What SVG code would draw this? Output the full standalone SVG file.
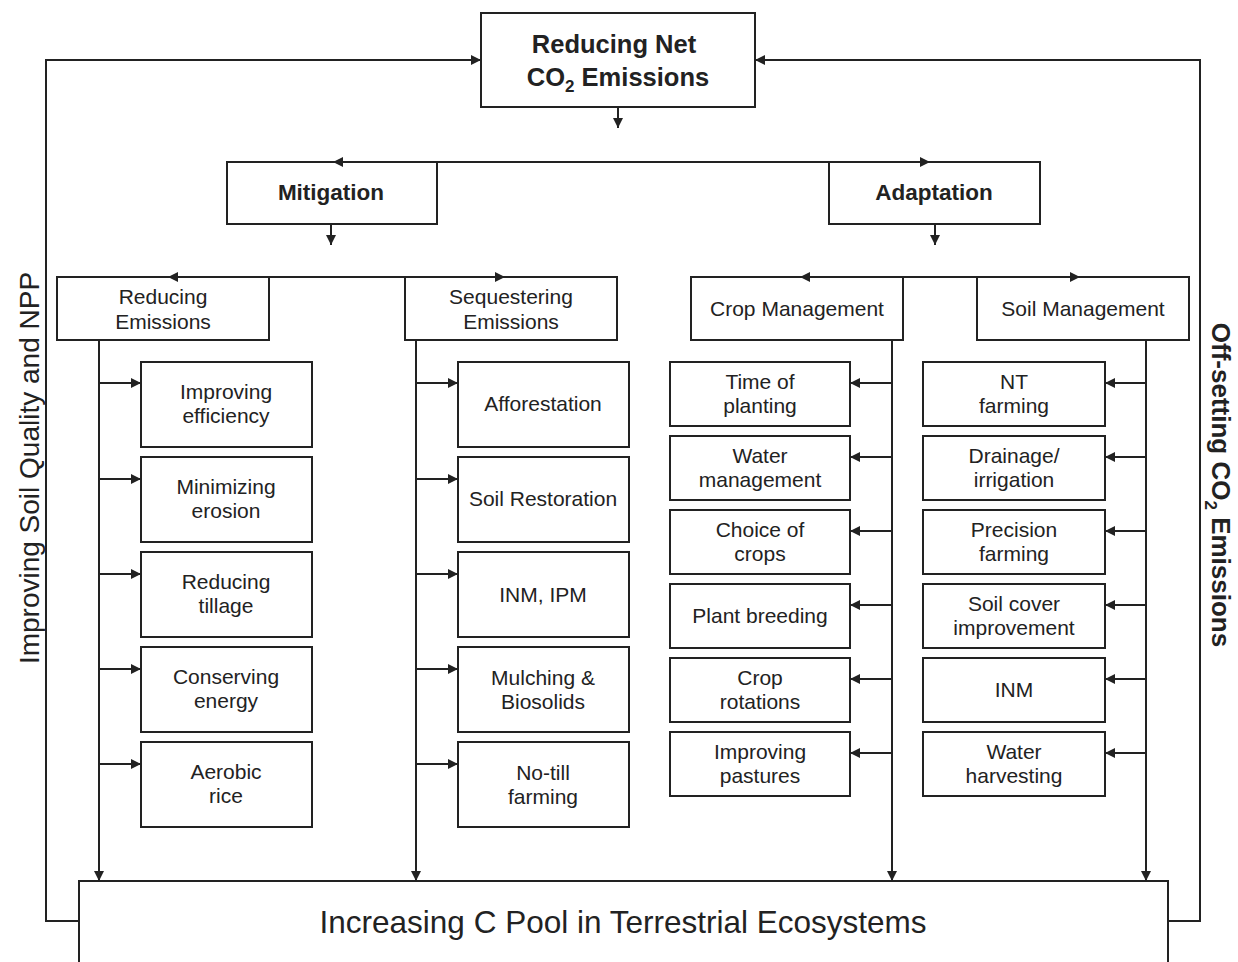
<svg xmlns="http://www.w3.org/2000/svg" xmlns:xlink="http://www.w3.org/1999/xlink" width="1238" height="962" viewBox="0 0 1238 962">
<style>
  .box { fill: #fff; stroke: #222; stroke-width: 2; }
  .ln { fill: none; stroke: #222; stroke-width: 2; }
  .t { font-family: "Liberation Sans", Arial, sans-serif; fill: #222; text-anchor: middle; }
  .big { font-size: 25.5px; font-weight: bold; }
  .mid { font-size: 22.5px; font-weight: bold; }
  .sm { font-size: 21px; }
  .side { font-size: 28px; }
  .sideb { font-size: 26px; font-weight: bold; }
  .bot { font-size: 31.5px; }
</style>
<defs>
  <path id="tri" d="M0,0 L-10,-5 L-10,5 Z" fill="#222"/>
</defs>
<rect width="1238" height="962" fill="#fff"/>

<g id="n-top">
  <rect class="box" x="481" y="13" width="274" height="94" stroke-width="2.5"/>
  <text class="t big" x="614" y="53">Reducing Net</text>
  <text class="t big" x="618" y="86">CO<tspan font-size="17" dy="6">2</tspan><tspan dy="-6"> Emissions</tspan></text>
</g>
<g id="n-mitigation">
  <rect class="box" x="227" y="162" width="210" height="62"/>
  <text class="t mid" x="331" y="200">Mitigation</text>
</g>
<g id="n-adaptation">
  <rect class="box" x="829" y="162" width="211" height="62"/>
  <text class="t mid" x="934" y="200">Adaptation</text>
</g>

<g id="n-reducing-emissions">
  <rect class="box" x="57" y="277" width="212" height="63"/>
  <text class="t sm" x="163" y="304">Reducing</text>
  <text class="t sm" x="163" y="329">Emissions</text>
</g>
<g id="n-sequestering-emissions">
  <rect class="box" x="405" y="277" width="212" height="63"/>
  <text class="t sm" x="511" y="304">Sequestering</text>
  <text class="t sm" x="511" y="329">Emissions</text>
</g>
<g id="n-crop-management">
  <rect class="box" x="691" y="277" width="212" height="63"/>
  <text class="t sm" x="797" y="316">Crop Management</text>
</g>
<g id="n-soil-management">
  <rect class="box" x="977" y="277" width="212" height="63"/>
  <text class="t sm" x="1083" y="316">Soil Management</text>
</g>

<g id="n-improving-efficiency">
  <rect class="box" x="141" y="362" width="171" height="85"/>
  <text class="t sm" x="226" y="399">Improving</text>
  <text class="t sm" x="226" y="423">efficiency</text>
</g>
<g id="n-minimizing-erosion">
  <rect class="box" x="141" y="457" width="171" height="85"/>
  <text class="t sm" x="226" y="494">Minimizing</text>
  <text class="t sm" x="226" y="518">erosion</text>
</g>
<g id="n-reducing-tillage">
  <rect class="box" x="141" y="552" width="171" height="85"/>
  <text class="t sm" x="226" y="589">Reducing</text>
  <text class="t sm" x="226" y="613">tillage</text>
</g>
<g id="n-conserving-energy">
  <rect class="box" x="141" y="647" width="171" height="85"/>
  <text class="t sm" x="226" y="684">Conserving</text>
  <text class="t sm" x="226" y="708">energy</text>
</g>
<g id="n-aerobic-rice">
  <rect class="box" x="141" y="742" width="171" height="85"/>
  <text class="t sm" x="226" y="779">Aerobic</text>
  <text class="t sm" x="226" y="803">rice</text>
</g>

<g id="n-afforestation">
  <rect class="box" x="458" y="362" width="171" height="85"/>
  <text class="t sm" x="543" y="411">Afforestation</text>
</g>
<g id="n-soil-restoration">
  <rect class="box" x="458" y="457" width="171" height="85"/>
  <text class="t sm" x="543" y="506">Soil Restoration</text>
</g>
<g id="n-inm-ipm">
  <rect class="box" x="458" y="552" width="171" height="85"/>
  <text class="t sm" x="543" y="602">INM, IPM</text>
</g>
<g id="n-mulching">
  <rect class="box" x="458" y="647" width="171" height="85"/>
  <text class="t sm" x="543" y="685">Mulching &amp;</text>
  <text class="t sm" x="543" y="709">Biosolids</text>
</g>
<g id="n-no-till">
  <rect class="box" x="458" y="742" width="171" height="85"/>
  <text class="t sm" x="543" y="780">No-till</text>
  <text class="t sm" x="543" y="804">farming</text>
</g>

<g id="n-time-of-planting">
  <rect class="box" x="670" y="362" width="180" height="64"/>
  <text class="t sm" x="760" y="389">Time of</text>
  <text class="t sm" x="760" y="413">planting</text>
</g>
<g id="n-water-management">
  <rect class="box" x="670" y="436" width="180" height="64"/>
  <text class="t sm" x="760" y="463">Water</text>
  <text class="t sm" x="760" y="487">management</text>
</g>
<g id="n-choice-of-crops">
  <rect class="box" x="670" y="510" width="180" height="64"/>
  <text class="t sm" x="760" y="537">Choice of</text>
  <text class="t sm" x="760" y="561">crops</text>
</g>
<g id="n-plant-breeding">
  <rect class="box" x="670" y="584" width="180" height="64"/>
  <text class="t sm" x="760" y="623">Plant breeding</text>
</g>
<g id="n-crop-rotations">
  <rect class="box" x="670" y="658" width="180" height="64"/>
  <text class="t sm" x="760" y="685">Crop</text>
  <text class="t sm" x="760" y="709">rotations</text>
</g>
<g id="n-improving-pastures">
  <rect class="box" x="670" y="732" width="180" height="64"/>
  <text class="t sm" x="760" y="759">Improving</text>
  <text class="t sm" x="760" y="783">pastures</text>
</g>

<g id="n-nt-farming">
  <rect class="box" x="923" y="362" width="182" height="64"/>
  <text class="t sm" x="1014" y="389">NT</text>
  <text class="t sm" x="1014" y="413">farming</text>
</g>
<g id="n-drainage">
  <rect class="box" x="923" y="436" width="182" height="64"/>
  <text class="t sm" x="1014" y="463">Drainage/</text>
  <text class="t sm" x="1014" y="487">irrigation</text>
</g>
<g id="n-precision-farming">
  <rect class="box" x="923" y="510" width="182" height="64"/>
  <text class="t sm" x="1014" y="537">Precision</text>
  <text class="t sm" x="1014" y="561">farming</text>
</g>
<g id="n-soil-cover">
  <rect class="box" x="923" y="584" width="182" height="64"/>
  <text class="t sm" x="1014" y="611">Soil cover</text>
  <text class="t sm" x="1014" y="635">improvement</text>
</g>
<g id="n-inm">
  <rect class="box" x="923" y="658" width="182" height="64"/>
  <text class="t sm" x="1014" y="697">INM</text>
</g>
<g id="n-water-harvesting">
  <rect class="box" x="923" y="732" width="182" height="64"/>
  <text class="t sm" x="1014" y="759">Water</text>
  <text class="t sm" x="1014" y="783">harvesting</text>
</g>

<g id="n-c-pool">
  <path class="box" d="M79,975 V881 H1168 V975"/>
  <text class="t bot" x="623" y="933">Increasing C Pool in Terrestrial Ecosystems</text>
</g>

<g id="side-labels">
  <text class="t side" transform="translate(39,468) rotate(-90)">Improving Soil Quality and NPP</text>
  <text class="t sideb" transform="translate(1212,485) rotate(90)">Off-setting CO<tspan font-size="17" dy="7">2</tspan><tspan dy="-7"> Emissions</tspan></text>
</g>

<g id="connectors">
  <path class="ln" d="M79,921 H46 V60 H481"/>
  <path class="ln" d="M1168,921 H1200 V60 H755"/>
  <path class="ln" d="M618,107 V128"/>
  <path class="ln" d="M227,162 H1040" stroke-width="2.5"/>
  <path class="ln" d="M331,224 V245"/>
  <path class="ln" d="M935,224 V245"/>
  <path class="ln" d="M57,277 H617"/>
  <path class="ln" d="M691,277 H1189"/>
  <path class="ln" d="M99,341 V881 M99,383 H141 M99,479 H141 M99,574 H141 M99,669 H141 M99,764 H141"/>
  <path class="ln" d="M416,341 V881 M416,383 H458 M416,479 H458 M416,574 H458 M416,669 H458 M416,764 H458"/>
  <path class="ln" d="M892,341 V881 M892,383 H850 M892,457 H850 M892,531 H850 M892,605 H850 M892,679 H850 M892,753 H850"/>
  <path class="ln" d="M1146,341 V881 M1146,383 H1105 M1146,457 H1105 M1146,531 H1105 M1146,605 H1105 M1146,679 H1105 M1146,753 H1105"/>
  <use xlink:href="#tri" transform="translate(481,60)"/>
  <use xlink:href="#tri" transform="translate(755,60) rotate(180)"/>
  <use xlink:href="#tri" transform="translate(618,128) rotate(90)"/>
  <use xlink:href="#tri" transform="translate(333,162) rotate(180)"/>
  <use xlink:href="#tri" transform="translate(930,162)"/>
  <use xlink:href="#tri" transform="translate(331,245) rotate(90)"/>
  <use xlink:href="#tri" transform="translate(935,245) rotate(90)"/>
  <use xlink:href="#tri" transform="translate(168,277) rotate(180)"/>
  <use xlink:href="#tri" transform="translate(505,277)"/>
  <use xlink:href="#tri" transform="translate(800,277) rotate(180)"/>
  <use xlink:href="#tri" transform="translate(1080,277)"/>
  <use xlink:href="#tri" transform="translate(99,881) rotate(90)"/>
  <use xlink:href="#tri" transform="translate(416,881) rotate(90)"/>
  <use xlink:href="#tri" transform="translate(892,881) rotate(90)"/>
  <use xlink:href="#tri" transform="translate(1146,881) rotate(90)"/>
  <use xlink:href="#tri" transform="translate(141,383)"/>
  <use xlink:href="#tri" transform="translate(141,479)"/>
  <use xlink:href="#tri" transform="translate(141,574)"/>
  <use xlink:href="#tri" transform="translate(141,669)"/>
  <use xlink:href="#tri" transform="translate(141,764)"/>
  <use xlink:href="#tri" transform="translate(458,383)"/>
  <use xlink:href="#tri" transform="translate(458,479)"/>
  <use xlink:href="#tri" transform="translate(458,574)"/>
  <use xlink:href="#tri" transform="translate(458,669)"/>
  <use xlink:href="#tri" transform="translate(458,764)"/>
  <use xlink:href="#tri" transform="translate(850,383) rotate(180)"/>
  <use xlink:href="#tri" transform="translate(850,457) rotate(180)"/>
  <use xlink:href="#tri" transform="translate(850,531) rotate(180)"/>
  <use xlink:href="#tri" transform="translate(850,605) rotate(180)"/>
  <use xlink:href="#tri" transform="translate(850,679) rotate(180)"/>
  <use xlink:href="#tri" transform="translate(850,753) rotate(180)"/>
  <use xlink:href="#tri" transform="translate(1105,383) rotate(180)"/>
  <use xlink:href="#tri" transform="translate(1105,457) rotate(180)"/>
  <use xlink:href="#tri" transform="translate(1105,531) rotate(180)"/>
  <use xlink:href="#tri" transform="translate(1105,605) rotate(180)"/>
  <use xlink:href="#tri" transform="translate(1105,679) rotate(180)"/>
  <use xlink:href="#tri" transform="translate(1105,753) rotate(180)"/>
</g>
</svg>
